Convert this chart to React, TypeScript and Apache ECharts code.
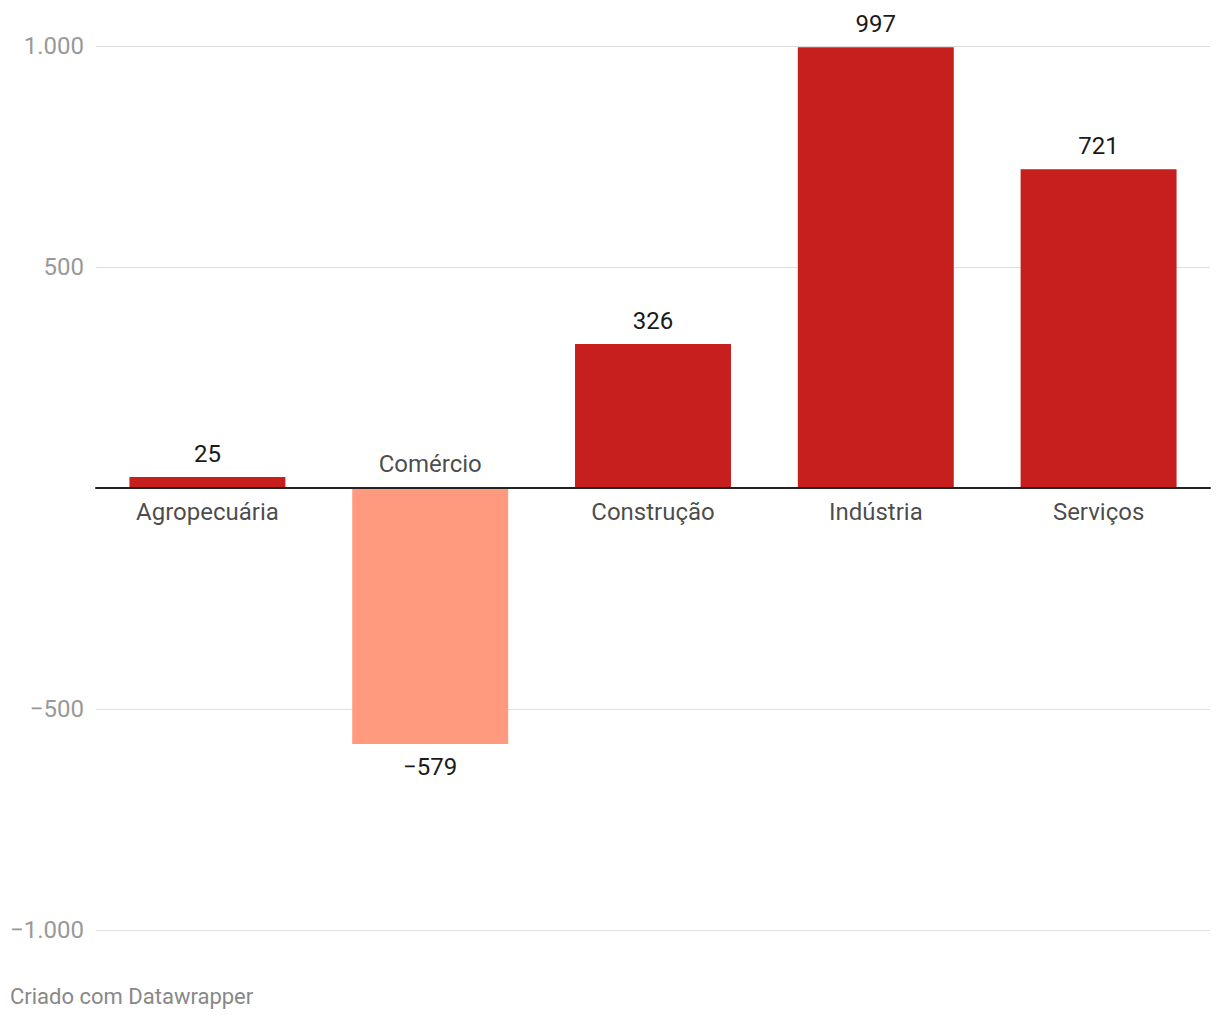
import React, { useEffect, useRef } from "react";
import * as echarts from "echarts";

const categories = ["Agropecuária", "Comércio", "Construção", "Indústria", "Serviços"];
const values = [25, -579, 326, 997, 721];
const yTicks = [-1000, -500, 0, 500, 1000];
const footerText = "Criado com Datawrapper";

const RED = "#c71e1e";
const SALMON = "#ff9a7f";

function fmt(v: number): string {
  const abs = Math.abs(v);
  const s = abs.toString().replace(/\B(?=(\d{3})+(?!\d))/g, ".");
  return v < 0 ? "\u2212" + s : s;
}

export default function App() {
  const ref = useRef<HTMLDivElement>(null);
  useEffect(() => {
    if (!ref.current) return;
    const chart = echarts.init(ref.current, undefined, { renderer: "svg" });
    chart.setOption({
      animation: false,
      backgroundColor: "#ffffff",
      textStyle: { fontFamily: "Roboto" },
      grid: { left: 96, right: 10, top: 46, bottom: 90, containLabel: false },
      xAxis: {
        type: "category",
        data: categories,
        axisLabel: { show: false },
        axisTick: { show: false },
        axisLine: { show: true, onZero: true, lineStyle: { color: "#222222", width: 2 } },
        splitLine: { show: false },
        z: 10,
      },
      yAxis: {
        type: "value",
        min: yTicks[0],
        max: yTicks[yTicks.length - 1],
        interval: 500,
        axisLine: { show: false },
        axisTick: { show: false },
        axisLabel: {
          color: "#999999",
          fontSize: 24,
          margin: 12,
          fontFamily: "Roboto",
          formatter: (v: number) => (v === 0 ? "" : fmt(v)),
        },
        splitLine: { show: true, lineStyle: { color: "#dedede", width: 1 } },
      },
      series: [
        {
          type: "bar",
          barWidth: "70%",
          data: values.map((v) => ({
            value: v,
            itemStyle: { color: v < 0 ? SALMON : RED },
            label: {
              show: true,
              position: v < 0 ? "bottom" : "top",
              distance: 11,
              formatter: () => fmt(v),
              color: "#1a1a1a",
              fontSize: 24,
              fontFamily: "Roboto",
            },
          })),
        },
        {
          type: "scatter",
          symbolSize: 0,
          silent: true,
          z: 20,
          data: values.map((v, i) => ({
            value: [i, 0],
            label: {
              show: true,
              position: v < 0 ? "top" : "bottom",
              distance: 12,
              formatter: () => categories[i],
              color: "#1a1a1a",
              fontSize: 24,
              fontFamily: "Roboto",
            },
          })),
        },
      ],
      graphic: [
        {
          type: "text",
          left: 10,
          top: 985,
          style: {
            text: footerText,
            fill: "#888888",
            fontSize: 22,
            fontFamily: "Roboto",
          },
        },
      ],
    });
    return () => chart.dispose();
  }, []);
  return (
    <div
      ref={ref}
      style={{ position: "absolute", left: 0, top: 0, width: 1220, height: 1020 }}
    />
  );
}
